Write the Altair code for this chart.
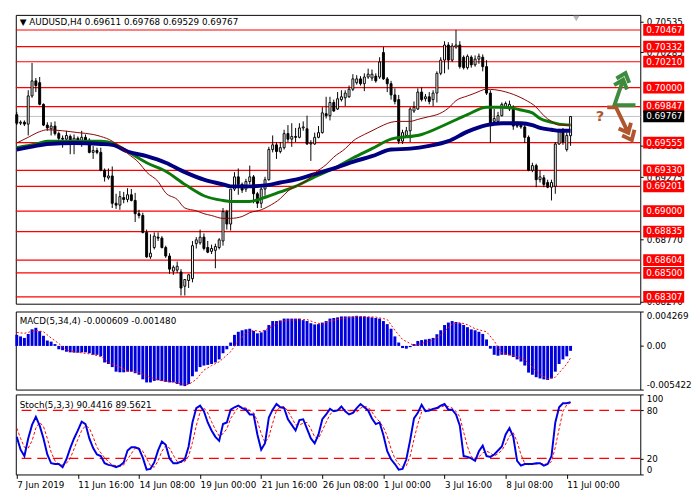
import altair as alt
import pandas as pd

# ---------------- data ----------------
OPEN = [
    0.69781, 0.69712, 0.69720, 0.69705, 0.69933, 0.70055, 0.70040, 0.69865, 0.69697, 0.69667,
    0.69689, 0.69628, 0.69590, 0.69583, 0.69605, 0.69552, 0.69590, 0.69567, 0.69598, 0.69575,
    0.69476, 0.69491, 0.69476, 0.69331, 0.69270, 0.69285, 0.69064, 0.69049, 0.69110, 0.69095,
    0.69133, 0.69087, 0.68980, 0.68965, 0.68828, 0.68630, 0.68706, 0.68790, 0.68782, 0.68706,
    0.68637, 0.68515, 0.68523, 0.68508, 0.68393, 0.68439, 0.68454, 0.68737, 0.68744, 0.68790,
    0.68706, 0.68675, 0.68683, 0.68706, 0.68759, 0.68996, 0.68896, 0.69179, 0.69278, 0.69217,
    0.69179, 0.69240, 0.69278, 0.69141, 0.69064, 0.69179, 0.69255, 0.69499, 0.69537, 0.69483,
    0.69514, 0.69628, 0.69583, 0.69605, 0.69598, 0.69674, 0.69667, 0.69544, 0.69544, 0.69598,
    0.69636, 0.69789, 0.69773, 0.69880, 0.69827, 0.69903, 0.69918, 0.69926, 0.69987, 0.70040,
    0.70071, 0.70032, 0.70086, 0.70078, 0.70093, 0.70086, 0.70284, 0.70071, 0.70032, 0.69941,
    0.69903, 0.69567, 0.69613, 0.69651, 0.69811, 0.69827, 0.69964, 0.69910, 0.69926, 0.69903,
    0.69956, 0.70116, 0.70223, 0.70345, 0.70223, 0.70330, 0.70345, 0.70246, 0.70162, 0.70246,
    0.70185, 0.70231, 0.70246, 0.70170, 0.69956, 0.69727, 0.69727, 0.69773, 0.69842, 0.69827,
    0.69827, 0.69697, 0.69697, 0.69682, 0.69598, 0.69331, 0.69369, 0.69255, 0.69270, 0.69232,
    0.69194, 0.69201, 0.69544, 0.69651, 0.69499, 0.69611,
]
HIGH = [
    0.69804, 0.69735, 0.69735, 0.69979, 0.70200, 0.70078, 0.70086, 0.69872, 0.69720, 0.69720,
    0.69727, 0.69644, 0.69613, 0.69651, 0.69621, 0.69621, 0.69605, 0.69651, 0.69621, 0.69590,
    0.69529, 0.69514, 0.69514, 0.69346, 0.69346, 0.69362, 0.69141, 0.69163, 0.69156, 0.69186,
    0.69179, 0.69148, 0.69011, 0.68988, 0.68851, 0.68813, 0.68828, 0.68828, 0.68798, 0.68721,
    0.68660, 0.68561, 0.68592, 0.68531, 0.68439, 0.68493, 0.68759, 0.68790, 0.68851, 0.68820,
    0.68759, 0.68729, 0.68737, 0.68782, 0.69026, 0.69011, 0.69171, 0.69316, 0.69346, 0.69232,
    0.69262, 0.69369, 0.69293, 0.69156, 0.69194, 0.69278, 0.69521, 0.69613, 0.69560, 0.69560,
    0.69659, 0.69697, 0.69712, 0.69674, 0.69712, 0.69727, 0.69773, 0.69575, 0.69636, 0.69689,
    0.69842, 0.69926, 0.69926, 0.69903, 0.69964, 0.69979, 0.69979, 0.70017, 0.70109, 0.70101,
    0.70093, 0.70116, 0.70154, 0.70147, 0.70116, 0.70246, 0.70330, 0.70086, 0.70055, 0.69994,
    0.69941, 0.69659, 0.69682, 0.69842, 0.69888, 0.69994, 0.70002, 0.69949, 0.69964, 0.69979,
    0.70132, 0.70246, 0.70376, 0.70368, 0.70360, 0.70467, 0.70376, 0.70261, 0.70269, 0.70261,
    0.70261, 0.70276, 0.70269, 0.70223, 0.69979, 0.69827, 0.69804, 0.69880, 0.69888, 0.69895,
    0.69857, 0.69727, 0.69712, 0.69697, 0.69613, 0.69392, 0.69384, 0.69331, 0.69293, 0.69255,
    0.69255, 0.69560, 0.69667, 0.69674, 0.69636, 0.69768,
]
LOW = [
    0.69697, 0.69697, 0.69689, 0.69613, 0.69918, 0.69964, 0.69857, 0.69689, 0.69651, 0.69613,
    0.69613, 0.69575, 0.69514, 0.69537, 0.69461, 0.69461, 0.69544, 0.69521, 0.69552, 0.69468,
    0.69423, 0.69461, 0.69323, 0.69240, 0.69255, 0.69026, 0.69019, 0.69011, 0.69064, 0.69072,
    0.69079, 0.68912, 0.68942, 0.68820, 0.68622, 0.68614, 0.68691, 0.68759, 0.68698, 0.68622,
    0.68493, 0.68485, 0.68500, 0.68317, 0.68317, 0.68378, 0.68424, 0.68698, 0.68729, 0.68683,
    0.68660, 0.68653, 0.68538, 0.68691, 0.68721, 0.68851, 0.68843, 0.69163, 0.69133, 0.69148,
    0.69156, 0.69217, 0.69064, 0.69026, 0.69026, 0.69125, 0.69247, 0.69476, 0.69423, 0.69468,
    0.69499, 0.69560, 0.69521, 0.69560, 0.69590, 0.69651, 0.69537, 0.69407, 0.69537, 0.69590,
    0.69628, 0.69750, 0.69735, 0.69804, 0.69819, 0.69888, 0.69850, 0.69918, 0.69972, 0.70025,
    0.70017, 0.69972, 0.70071, 0.70055, 0.70040, 0.70071, 0.70063, 0.69964, 0.69903, 0.69865,
    0.69544, 0.69544, 0.69598, 0.69560, 0.69796, 0.69819, 0.69888, 0.69888, 0.69865, 0.69850,
    0.69880, 0.70101, 0.70116, 0.70147, 0.70208, 0.70315, 0.70154, 0.70147, 0.70147, 0.70162,
    0.70170, 0.70193, 0.70132, 0.69941, 0.69552, 0.69712, 0.69720, 0.69766, 0.69827, 0.69811,
    0.69659, 0.69674, 0.69667, 0.69552, 0.69323, 0.69316, 0.69194, 0.69232, 0.69194, 0.69186,
    0.69087, 0.69141, 0.69537, 0.69537, 0.69483, 0.69529,
]
CLOSE = [
    0.69712, 0.69720, 0.69705, 0.69933, 0.70055, 0.70017, 0.69865, 0.69697, 0.69674, 0.69689,
    0.69628, 0.69590, 0.69583, 0.69613, 0.69552, 0.69590, 0.69567, 0.69598, 0.69575, 0.69476,
    0.69491, 0.69476, 0.69331, 0.69278, 0.69285, 0.69064, 0.69049, 0.69118, 0.69095, 0.69133,
    0.69087, 0.68980, 0.68965, 0.68828, 0.68630, 0.68660, 0.68798, 0.68782, 0.68706, 0.68637,
    0.68531, 0.68546, 0.68554, 0.68378, 0.68447, 0.68485, 0.68721, 0.68768, 0.68790, 0.68698,
    0.68668, 0.68698, 0.68714, 0.68768, 0.68996, 0.68896, 0.69179, 0.69278, 0.69217, 0.69171,
    0.69240, 0.69278, 0.69141, 0.69064, 0.69179, 0.69255, 0.69499, 0.69537, 0.69483, 0.69514,
    0.69628, 0.69583, 0.69605, 0.69598, 0.69674, 0.69682, 0.69544, 0.69552, 0.69598, 0.69636,
    0.69796, 0.69773, 0.69880, 0.69811, 0.69910, 0.69926, 0.69956, 0.69987, 0.70071, 0.70071,
    0.70032, 0.70086, 0.70109, 0.70109, 0.70055, 0.70208, 0.70071, 0.70032, 0.69941, 0.69888,
    0.69567, 0.69636, 0.69651, 0.69827, 0.69842, 0.69964, 0.69903, 0.69926, 0.69888, 0.69956,
    0.70116, 0.70223, 0.70345, 0.70223, 0.70337, 0.70345, 0.70170, 0.70162, 0.70254, 0.70185,
    0.70231, 0.70254, 0.70170, 0.69956, 0.69712, 0.69750, 0.69773, 0.69865, 0.69872, 0.69865,
    0.69689, 0.69689, 0.69682, 0.69598, 0.69331, 0.69369, 0.69255, 0.69278, 0.69217, 0.69194,
    0.69232, 0.69544, 0.69651, 0.69560, 0.69613, 0.69767,
]

# moving averages (sampled along the picture): fast (thin dark red), mid (green), slow (navy)
MA_FAST_BAR = [0, 3, 6, 8, 12, 16, 20, 22, 25, 27, 29, 32, 34, 37, 39, 42, 44, 47, 49, 51,
               54, 56, 59, 61, 64, 66, 69, 71, 74, 76, 78, 81, 83, 86, 88, 91, 93, 96, 98, 100,
               103, 105, 108, 110, 113, 115, 118, 120, 123, 131, 133, 136, 138, 140, 142, 145]
MA_FAST = [0.69552, 0.69598, 0.69644, 0.69659, 0.69651, 0.69636, 0.69621, 0.69605, 0.69567, 0.69521,
           0.69468, 0.69392, 0.69316, 0.69240, 0.69148, 0.69095, 0.69026, 0.69003, 0.68980, 0.68965,
           0.68942, 0.68942, 0.68957, 0.68988, 0.69011, 0.69041, 0.69102, 0.69163, 0.69217, 0.69247,
           0.69308, 0.69377, 0.69438, 0.69506, 0.69567, 0.69621, 0.69651, 0.69697, 0.69720, 0.69727,
           0.69727, 0.69743, 0.69766, 0.69781, 0.69834, 0.69895, 0.69933, 0.69956, 0.69987, 0.69933,
           0.69903, 0.69842, 0.69773, 0.69727, 0.69697, 0.69697]
MA_MID_BAR = [0, 5, 8, 15, 22, 25, 29, 34, 39, 44, 49, 54, 56, 61, 64, 69, 73, 78, 83, 88,
              93, 98, 106, 113, 118, 123, 127, 130, 132, 135, 137, 140, 142, 145]
MA_MID = [0.69514, 0.69544, 0.69567, 0.69567, 0.69567, 0.69552, 0.69483, 0.69392, 0.69323, 0.69217,
          0.69125, 0.69087, 0.69079, 0.69079, 0.69102, 0.69156, 0.69201, 0.69278, 0.69346, 0.69430,
          0.69506, 0.69583, 0.69621, 0.69712, 0.69781, 0.69842, 0.69842, 0.69834, 0.69819, 0.69796,
          0.69750, 0.69720, 0.69705, 0.69697]
MA_SLOW_BAR = [0, 5, 8, 15, 22, 25, 29, 34, 39, 44, 49, 54, 56, 61, 65, 69, 73, 78, 83, 88,
               93, 98, 103, 108, 113, 118, 123, 127, 132, 135, 137, 140, 142, 145]
MA_SLOW = [0.69499, 0.69529, 0.69544, 0.69552, 0.69544, 0.69537, 0.69483, 0.69445, 0.69392, 0.69316,
           0.69255, 0.69217, 0.69201, 0.69201, 0.69209, 0.69232, 0.69255, 0.69301, 0.69346, 0.69400,
           0.69445, 0.69499, 0.69506, 0.69529, 0.69567, 0.69644, 0.69697, 0.69712, 0.69712, 0.69697,
           0.69674, 0.69659, 0.69651, 0.69651]

MACD_HIST = [
    0.001372, 0.001181, 0.000991, 0.001486, 0.002057, 0.002248, 0.001829, 0.001257, 0.000686, 0.000533,
    0.000229, -0.000419, -0.000533, -0.000724, -0.000800, -0.000838, -0.000838, -0.000800, -0.000800, -0.000914,
    -0.001105, -0.001105, -0.001295, -0.002057, -0.002248, -0.002629, -0.003200, -0.003277, -0.003277, -0.003200,
    -0.003200, -0.003391, -0.003581, -0.004153, -0.004534, -0.004534, -0.004343, -0.004267, -0.004343, -0.004458,
    -0.004534, -0.004534, -0.004724, -0.004915, -0.004991, -0.004724, -0.003772, -0.003200, -0.002629, -0.002438,
    -0.002362, -0.002248, -0.002057, -0.001676, -0.000914, -0.000419, 0.000419, 0.001372, 0.001753, 0.001943,
    0.002057, 0.002134, 0.001867, 0.001562, 0.001676, 0.001943, 0.002591, 0.003086, 0.003086, 0.003162,
    0.003391, 0.003391, 0.003391, 0.003391, 0.003391, 0.003200, 0.003086, 0.002819, 0.002667, 0.002705,
    0.002896, 0.003086, 0.003391, 0.003467, 0.003543, 0.003658, 0.003658, 0.003658, 0.003658, 0.003734,
    0.003658, 0.003658, 0.003581, 0.003543, 0.003467, 0.003391, 0.003086, 0.002705, 0.002134, 0.001181,
    0.000419, -0.000267, -0.000343, -0.000152, 0.000229, 0.000610, 0.000724, 0.000800, 0.000876, 0.000991,
    0.001448, 0.001943, 0.002591, 0.002896, 0.003086, 0.002972, 0.002819, 0.002591, 0.002324, 0.002057,
    0.001943, 0.001753, 0.001486, 0.000800, -0.000343, -0.001105, -0.001219, -0.001105, -0.001105, -0.001181,
    -0.001372, -0.001676, -0.001943, -0.002438, -0.003315, -0.003581, -0.003886, -0.004039, -0.004153, -0.004229,
    -0.004039, -0.003200, -0.002248, -0.001676, -0.001295, -0.000609,
]
MACD_SIG_BAR = [0, 2, 5, 7, 9, 11, 13, 16, 19, 22, 24, 27, 29, 32, 34, 38, 41, 43, 45, 47,
                49, 51, 53, 56, 58, 60, 62, 64, 67, 69, 71, 76, 78, 80, 82, 85, 89, 94, 97, 99,
                101, 104, 106, 109, 111, 114, 116, 118, 120, 123, 125, 127, 130, 133, 135, 137, 139, 141, 144, 145]
MACD_SIG = [0.00168, 0.00156, 0.00194, 0.00175, 0.00099, 0.00030, -0.00053, -0.00080, -0.00099, -0.00130,
            -0.00206, -0.00263, -0.00312, -0.00328, -0.00377, -0.00434, -0.00446, -0.00472, -0.00480, -0.00415,
            -0.00301, -0.00244, -0.00198, -0.00072, 0.00061, 0.00156, 0.00194, 0.00175, 0.00244, 0.00297,
            0.00320, 0.00328, 0.00290, 0.00271, 0.00309, 0.00339, 0.00366, 0.00358, 0.00328, 0.00194,
            0.00080, 0.00004, 0.00030, 0.00069, 0.00137, 0.00271, 0.00290, 0.00263, 0.00213, 0.00175,
            0.00061, -0.00091, -0.00118, -0.00168, -0.00263, -0.00358, -0.00408, -0.00389, -0.00225, -0.00148]

STO_K = [
    47, 31, 23, 45, 62, 72, 61, 45, 25, 14,
    13, 13, 9, 19, 33, 45, 55, 66, 63, 45,
    33, 25, 23, 14, 12, 11, 9, 11, 15, 30,
    34, 34, 32, 21, 6, 7, 15, 30, 41, 37,
    20, 14, 14, 16, 19, 35, 65, 83, 86, 79,
    65, 55, 47, 42, 63, 65, 81, 84, 86, 83,
    81, 75, 75, 50, 31, 39, 71, 81, 88, 84,
    83, 69, 62, 55, 68, 69, 57, 45, 39, 50,
    69, 75, 82, 79, 80, 85, 79, 75, 77, 83,
    88, 84, 80, 70, 63, 65, 49, 29, 19, 13,
    6, 7, 19, 43, 70, 77, 87, 79, 80, 82,
    83, 86, 88, 81, 81, 75, 61, 23, 22, 20,
    17, 29, 36, 23, 22, 25, 30, 35, 50, 58,
    47, 17, 11, 13, 13, 13, 14, 14, 11, 13,
    23, 65, 84, 89, 89, 90.44,
]
STO_D = [
    58, 45, 34, 33, 42, 58, 65, 60, 45, 28,
    17, 13, 12, 14, 20, 32, 44, 55, 61, 58,
    47, 34, 27, 21, 16, 12, 11, 10, 12, 19,
    26, 33, 33, 29, 20, 11, 9, 17, 29, 36,
    33, 24, 16, 15, 16, 23, 40, 61, 78, 83,
    77, 66, 56, 48, 51, 57, 70, 77, 84, 84,
    83, 80, 77, 67, 51, 40, 47, 64, 80, 84,
    85, 79, 71, 62, 62, 64, 65, 57, 47, 45,
    55, 65, 75, 79, 80, 81, 81, 80, 77, 78,
    83, 85, 84, 78, 71, 66, 59, 48, 32, 20,
    13, 9, 11, 23, 44, 63, 78, 81, 82, 80,
    82, 84, 86, 85, 83, 79, 72, 53, 35, 22,
    20, 22, 27, 29, 27, 23, 26, 30, 38, 48,
    52, 41, 25, 14, 12, 13, 13, 14, 13, 13,
    16, 34, 57, 79, 87, 89.56,
]
STO_LEVELS = [20, 80]

LEVELS = [0.70467, 0.70332, 0.70210, 0.70000, 0.69847, 0.69555, 0.69330,
          0.69201, 0.69000, 0.68835, 0.68604, 0.68500, 0.68307]
CURRENT = 0.69767
PRICE_TICKS = [0.70535, 0.70285, 0.69530, 0.69275, 0.68770, 0.68270]
TIME_TICK_BARS = [0, 16, 32, 48, 64, 80, 96, 112, 128, 144]
TIME_TICK_LABELS = ["7 Jun 2019", "11 Jun 16:00", "14 Jun 08:00", "19 Jun 00:00",
                    "21 Jun 16:00", "26 Jun 08:00", "1 Jul 00:00", "3 Jul 16:00",
                    "8 Jul 08:00", "11 Jul 00:00"]
HEADER = "\u25bc AUDUSD,H4  0.69611 0.69768 0.69529 0.69767"
MACD_HEADER = "MACD(5,34,4) -0.000609 -0.001480"
STO_HEADER = "Stoch(5,3,3) 90.4416 89.5621"

# forecast marks on the right (bar position, price)
UP_MARK = (159.0, 0.69979)
DOWN_MARK = (158.5, 0.69705)
QUESTION = (152.7, 0.69773)

# ---------------- layout ----------------
W, H1, H2, H3 = 640, 296, 80, 82
FONT = "DejaVu Sans"

n = len(CLOSE)
bars = pd.DataFrame({"i": list(range(n)), "open": OPEN, "high": HIGH, "low": LOW,
                     "close": CLOSE, "macd": MACD_HIST, "zero": [0.0] * n,
                     "k": STO_K, "d": STO_D})

XS = alt.Scale(domain=[-0.25, 163.25], nice=False, zero=False, padding=0)
YS = alt.Scale(domain=[0.68251, 0.70589], nice=False, zero=False, padding=0)
YAX = alt.Axis(orient="right", values=PRICE_TICKS, format=".5f", title=None, grid=False,
               domain=False, tickSize=3, labelPadding=3, zindex=0, labelOverlap=False)


def xm(f):
    return alt.X(f, type="quantitative", scale=XS, axis=None, title=None)


def ym(f):
    return alt.Y(f, type="quantitative", scale=YS, axis=YAX, title=None)


lev_df = pd.DataFrame({"lv": LEVELS})
cur_df = pd.DataFrame({"lv": [CURRENT]})

lev_rule = alt.Chart(lev_df).mark_rule(color="#ff0000", strokeWidth=1.2).encode(y=ym("lv"))
cur_rule = alt.Chart(cur_df).mark_rule(color="#c0c0c0", strokeWidth=1).encode(y=ym("lv"))

wick = alt.Chart(bars).mark_rule(color="black", strokeWidth=1).encode(
    x=xm("i"), y=ym("low"), y2="high")
body = alt.Chart(bars).mark_bar(size=2, stroke="black", strokeWidth=1).encode(
    x=xm("i"), y=ym("open"), y2="close",
    fill=alt.condition("datum.close >= datum.open", alt.value("white"), alt.value("black")))


def ma_line(b, v, color, width):
    df = pd.DataFrame({"b": b, "v": v})
    return alt.Chart(df).mark_line(color=color, strokeWidth=width, interpolate="monotone").encode(
        x=xm("b"), y=ym("v"))


ma_mid = ma_line(MA_MID_BAR, MA_MID, "#0b7a0b", 3)
ma_slow = ma_line(MA_SLOW_BAR, MA_SLOW, "#000080", 4)
ma_fast = ma_line(MA_FAST_BAR, MA_FAST, "#8b0000", 1)

header = alt.Chart(pd.DataFrame({"t": [HEADER]})).mark_text(
    align="left", baseline="middle", font=FONT, fontSize=9, color="black").encode(
    x=alt.value(4), y=alt.value(7), text="t:N")

box = alt.Chart(lev_df).mark_bar(orient="horizontal", size=12, color="#ff0000").encode(
    y=ym("lv"), x=alt.value(W + 3), x2=alt.value(W + 45))
box_text = alt.Chart(lev_df).mark_text(align="left", baseline="middle", color="white",
                                       font=FONT, fontSize=9).encode(
    y=ym("lv"), x=alt.value(W + 6), text=alt.Text("lv:Q", format=".5f"))
cur_box = alt.Chart(cur_df).mark_bar(orient="horizontal", size=12, color="black").encode(
    y=ym("lv"), x=alt.value(W + 3), x2=alt.value(W + 45))
cur_text = alt.Chart(cur_df).mark_text(align="left", baseline="middle", color="white",
                                       font=FONT, fontSize=9).encode(
    y=ym("lv"), x=alt.value(W + 6), text=alt.Text("lv:Q", format=".5f"))

UP_PATH = ("M0.65,0.85L-0.55,0.85L-0.05,-0.6M-0.565,-0.29L-0.05,-0.6L0.165,-0.04"
           "M-0.435,-0.67L0.08,-0.98L0.295,-0.42")
DOWN_PATH = ("M-0.85,-0.95L-0.35,-0.95L0.35,0.5M-0.2,0.25L0.35,0.5L0.5,-0.08"
             "M0,0.65L0.55,0.9L0.7,0.32")
up_icon = alt.Chart(pd.DataFrame({"b": [UP_MARK[0]], "v": [UP_MARK[1]]})).mark_point(
    shape=UP_PATH, size=1296, filled=False, strokeWidth=4, color="#3d8b3d", opacity=1,
    strokeJoin="miter").encode(x=xm("b"), y=ym("v"))
down_icon = alt.Chart(pd.DataFrame({"b": [DOWN_MARK[0]], "v": [DOWN_MARK[1]]})).mark_point(
    shape=DOWN_PATH, size=1296, filled=False, strokeWidth=4, color="#b0562e", opacity=1,
    strokeJoin="miter").encode(x=xm("b"), y=ym("v"))
q_text = alt.Chart(pd.DataFrame({"b": [QUESTION[0]], "v": [QUESTION[1]], "t": ["?"]})).mark_text(
    font=FONT, fontSize=15, fontWeight="bold", color="#b0562e").encode(
    x=xm("b"), y=ym("v"), text="t:N")
tri = alt.Chart(pd.DataFrame({"b": [146.5], "v": [0.70560]})).mark_point(
    shape="triangle-down", filled=True, color="#b8b8b8", size=45, opacity=1).encode(
    x=xm("b"), y=ym("v"))

main = alt.layer(lev_rule, cur_rule, wick, body, ma_mid, ma_slow, ma_fast, header,
                 box, box_text, cur_box, cur_text, up_icon, down_icon, q_text, tri
                 ).properties(width=W, height=H1)

# MACD panel
MS = alt.Scale(domain=[-0.005422, 0.004269], nice=False, zero=False, padding=0)
MAX = alt.Axis(orient="right", values=[-0.005422, 0.0, 0.004269], title=None, grid=False,
               domain=False, tickSize=3, labelPadding=3, labelFlush=True, zindex=0,
               labelExpr="datum.value > 0.004 ? '0.004269' : (datum.value < -0.005 ? '-0.005422' : '0.00')")
macd_bars = alt.Chart(bars).mark_bar(size=3, color="#0000dd").encode(
    x=xm("i"), y=alt.Y("macd:Q", scale=MS, axis=MAX, title=None), y2="zero")
sig_df = pd.DataFrame({"b": MACD_SIG_BAR, "v": MACD_SIG})
macd_sig = alt.Chart(sig_df).mark_line(color="#ff0000", strokeWidth=1, strokeDash=[2, 2]).encode(
    x=xm("b"), y=alt.Y("v:Q", scale=MS, axis=MAX, title=None))
macd_head = alt.Chart(pd.DataFrame({"t": [MACD_HEADER]})).mark_text(
    align="left", baseline="middle", font=FONT, fontSize=9, color="black").encode(
    x=alt.value(4), y=alt.value(10), text="t:N")
macd = alt.layer(macd_bars, macd_sig, macd_head).properties(width=W, height=H2)

# Stochastic panel
label_expr = " : ".join(f"datum.value == {b} ? '{t}'" for b, t in zip(TIME_TICK_BARS, TIME_TICK_LABELS)) + " : ''"
XB = alt.Axis(values=TIME_TICK_BARS, labelExpr=label_expr, labelAlign="left", tickSize=4,
              labelPadding=2, grid=False, domain=False, title=None, labelFlush=False,
              labelOverlap=False)
SS = alt.Scale(domain=[0, 100], nice=False, zero=False, padding=0)
SAX = alt.Axis(orient="right", values=[0, 20, 80, 100], title=None, grid=False, domain=False,
               tickSize=3, labelPadding=3, labelFlush=True, zindex=0)
sto_lev = alt.Chart(pd.DataFrame({"lv": STO_LEVELS})).mark_rule(
    color="#ff0000", strokeWidth=1.3, strokeDash=[10, 6]).encode(
    y=alt.Y("lv:Q", scale=SS, axis=SAX, title=None))
sto_d = alt.Chart(bars).mark_line(color="#ff0000", strokeWidth=1, strokeDash=[3, 2]).encode(
    x=alt.X("i:Q", scale=XS, axis=XB, title=None), y=alt.Y("d:Q", scale=SS, axis=SAX, title=None))
sto_k = alt.Chart(bars).mark_line(color="#0000e0", strokeWidth=2).encode(
    x=alt.X("i:Q", scale=XS, axis=XB, title=None), y=alt.Y("k:Q", scale=SS, axis=SAX, title=None))
sto_head = alt.Chart(pd.DataFrame({"t": [STO_HEADER]})).mark_text(
    align="left", baseline="middle", font=FONT, fontSize=9, color="black").encode(
    x=alt.value(4), y=alt.value(11), text="t:N")
sto = alt.layer(sto_lev, sto_d, sto_k, sto_head).properties(width=W, height=H3)

chart = alt.vconcat(main, macd, sto, spacing=3).properties(
    padding=0, background="white"
).configure(padding=0).configure_view(stroke="black", strokeWidth=1).configure_axis(
    labelFont=FONT, labelFontSize=9, labelColor="black", tickColor="black", tickWidth=1)

chart.save("out.html", embed_options={"renderer": "svg", "actions": False})
